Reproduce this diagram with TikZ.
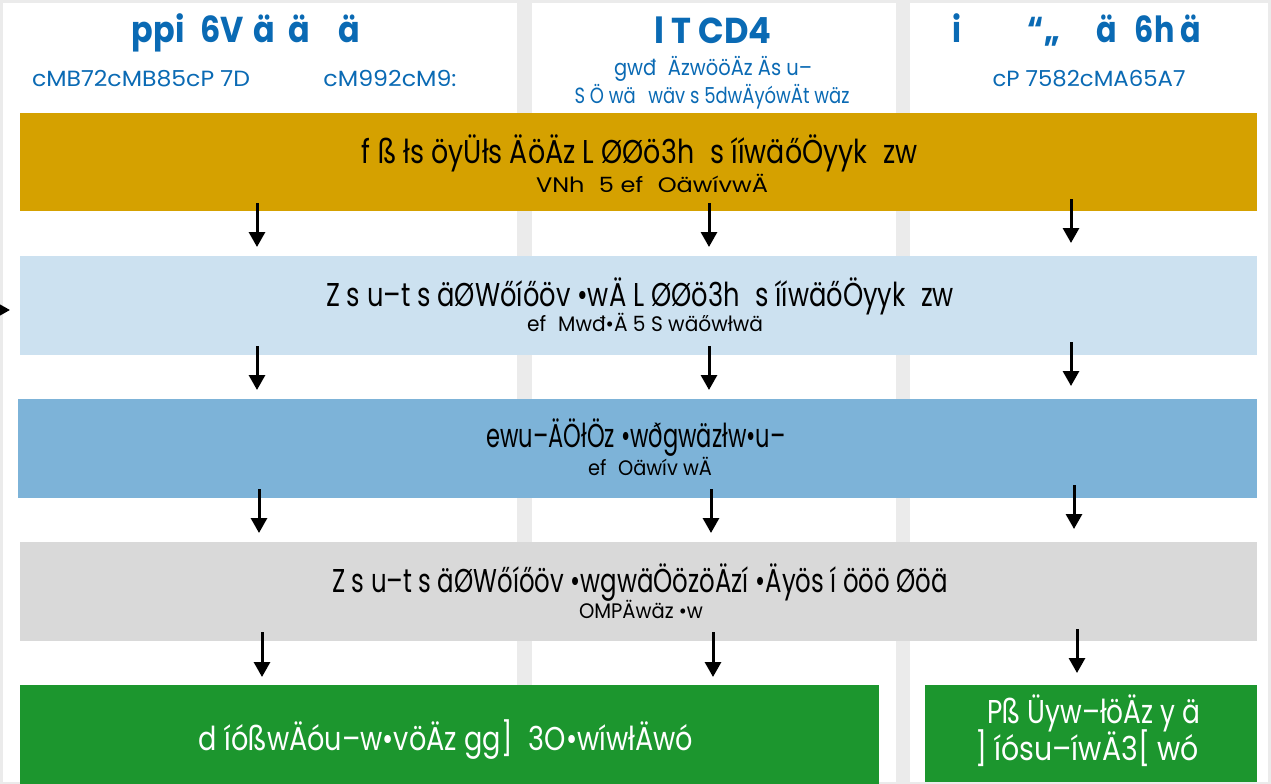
\documentclass[tikz,border=0pt]{standalone}
\usepackage{fontspec}
\setmainfont{Poppins}
\usepackage{graphicx}
\usetikzlibrary{arrows.meta}
\definecolor{bgc}{HTML}{EBEBEB}
\definecolor{gold}{HTML}{D5A100}
\definecolor{lblue}{HTML}{CCE1F0}
\definecolor{mblue}{HTML}{7DB3D8}
\definecolor{lgray}{HTML}{D9D9D9}
\definecolor{dgreen}{HTML}{1C962E}
\definecolor{tblue}{HTML}{0A6AB4}
\newcommand{\fw}[2]{\resizebox{#1pt}{\height}{#2}}
\begin{document}
\begin{tikzpicture}[x=1pt,y=-1pt,
  panel/.style={fill=white,draw=none,inner sep=0pt,anchor=north west},
  band/.style={draw=none,inner sep=0pt,anchor=north west},
  txt/.style={inner sep=0pt,anchor=base},
  head/.style={txt,text=tblue,font=\bfseries\fontsize{36}{40}\selectfont},
  subh/.style={txt,text=tblue,font=\fontsize{22}{26}\selectfont},
  maint/.style={txt,text=black,font=\fontsize{33}{38}\selectfont},
  subt/.style={txt,text=black,font=\fontsize{21}{25}\selectfont},
  gtxt/.style={txt,text=white,font=\fontsize{33}{38}\selectfont},
  arr/.style={draw=black,line width=3pt,-{Triangle[width=16pt,length=15pt]}}]
\useasboundingbox (0,0) rectangle (1271,784);
\fill[bgc] (0,0) rectangle (1271,784);
% columns
\node[panel,minimum width=514pt,minimum height=779pt] (c1) at (3,3) {};
\node[panel,minimum width=364pt,minimum height=779pt] (c2) at (532,3) {};
\node[panel,minimum width=358pt,minimum height=779pt] (c3) at (910,3) {};
% headers
\node[head] (h1) at (246,43) {\fw{228}{ppi\hspace{0.5em}6V\hspace{0.3em}ä\hspace{0.4em}ä\hspace{0.9em}ä}};
\node[subh] (s1a) at (141,87) {\fw{218}{cMB72cMB85cP 7D}};
\node[subh] (s1b) at (390,87) {\fw{133}{cM992cM9:}};
\node[head] (h2) at (713,43) {\fw{117}{l T CD4}};
\node[subh] (s2a) at (713,76) {\fw{198}{gwđ\hspace{0.6em}ÄzwööÄz Äs u–}};
\node[subh] (s2b) at (712,103) {\fw{275}{S Ö wä\hspace{0.7em}wäv s 5dwÄyówÄt wäz}};
\node[head] (h3) at (1077,43) {\fw{249}{i\hspace{2.2em}“„\hspace{1.2em}ä\hspace{0.6em}6h ä}};
\node[subh] (s3) at (1089,87) {\fw{193}{cP 7582cMA65A7}};
% bands
\node[band,fill=gold,minimum width=1237pt,minimum height=98pt] (b1) at (20,113) {};
\node[band,fill=lblue,minimum width=1237pt,minimum height=99pt] (b2) at (20,256) {};
\node[band,fill=mblue,minimum width=1239pt,minimum height=99pt] (b3) at (18,399) {};
\node[band,fill=lgray,minimum width=1237pt,minimum height=99pt] (b4) at (20,542) {};
\node[band,fill=dgreen,minimum width=859pt,minimum height=100pt] (g1) at (20,685) {};
\node[band,fill=dgreen,minimum width=332pt,minimum height=97pt] (g2) at (925,685) {};
% band texts
\node[maint] (t1) at (640,163) {\fw{556}{f ß łs öyÜłs ÄöÄz L ØØö3h\hspace{0.6em}s ííwäőÖyyk\hspace{0.6em}zw}};
\node[subt] (t1s) at (652,192) {\fw{232}{VNh\hspace{0.6em}5 ef\hspace{0.6em}OäwívwÄ}};
\node[maint] (t2) at (640,306) {\fw{628}{Z s u–t s äØWőíőöv •wÄ L ØØö3h\hspace{0.6em}s ííwäőÖyyk\hspace{0.6em}zw}};
\node[subt] (t2s) at (645,331) {\fw{236}{ef\hspace{0.6em}Mwđ•Ä 5 S wäőwłwä}};
\node[maint] (t3) at (636,447) {\fw{299}{ewu–ÄÖłÖz •wðgwäzłw•u–}};
\node[subt] (t3s) at (650,475) {\fw{124}{ef\hspace{0.6em}Oäwív wÄ}};
\node[maint] (t4) at (640,592) {\fw{616}{Z s u–t s äØWőíőöv •wgwäÖözöÄzí •Äyös í ööö Øöä}};
\node[subt] (t4s) at (641,618) {\fw{124}{OMPÄwäz •w}};
\node[gtxt] (t5) at (446,750) {\fw{494}{d íóßwÄóu–w•vöÄz gg]\hspace{0.6em}3O•wíwłÄwó}};
\node[gtxt] (t6a) at (1094,723) {\fw{213}{Pß Üyw–łöÄz y ä}};
\node[gtxt] (t6b) at (1087,760) {\fw{224}{] íósu–íwÄ3[ wó}};
% arrows
\coordinate (r1a) at (257,203); \coordinate (r1b) at (257,247);
\coordinate (r1c) at (709,203); \coordinate (r1d) at (709,247);
\coordinate (r1e) at (1071,199); \coordinate (r1f) at (1071,243);
\coordinate (r2a) at (257,346); \coordinate (r2b) at (257,390);
\coordinate (r2c) at (709,346); \coordinate (r2d) at (709,390);
\coordinate (r2e) at (1071,342); \coordinate (r2f) at (1071,386);
\coordinate (r3a) at (259,489); \coordinate (r3b) at (259,533);
\coordinate (r3c) at (711,489); \coordinate (r3d) at (711,533);
\coordinate (r3e) at (1074,485); \coordinate (r3f) at (1074,529);
\coordinate (r4a) at (262,632); \coordinate (r4b) at (262,677);
\coordinate (r4c) at (713,632); \coordinate (r4d) at (713,677);
\coordinate (r4e) at (1077,629); \coordinate (r4f) at (1077,673);
\coordinate (la) at (-20,310); \coordinate (lb) at (10,310);
\draw[arr] (r1a) -- (r1b); \draw[arr] (r1c) -- (r1d); \draw[arr] (r1e) -- (r1f);
\draw[arr] (r2a) -- (r2b); \draw[arr] (r2c) -- (r2d); \draw[arr] (r2e) -- (r2f);
\draw[arr] (r3a) -- (r3b); \draw[arr] (r3c) -- (r3d); \draw[arr] (r3e) -- (r3f);
\draw[arr] (r4a) -- (r4b); \draw[arr] (r4c) -- (r4d); \draw[arr] (r4e) -- (r4f);
\draw[arr] (la) -- (lb);
\end{tikzpicture}
\end{document}
